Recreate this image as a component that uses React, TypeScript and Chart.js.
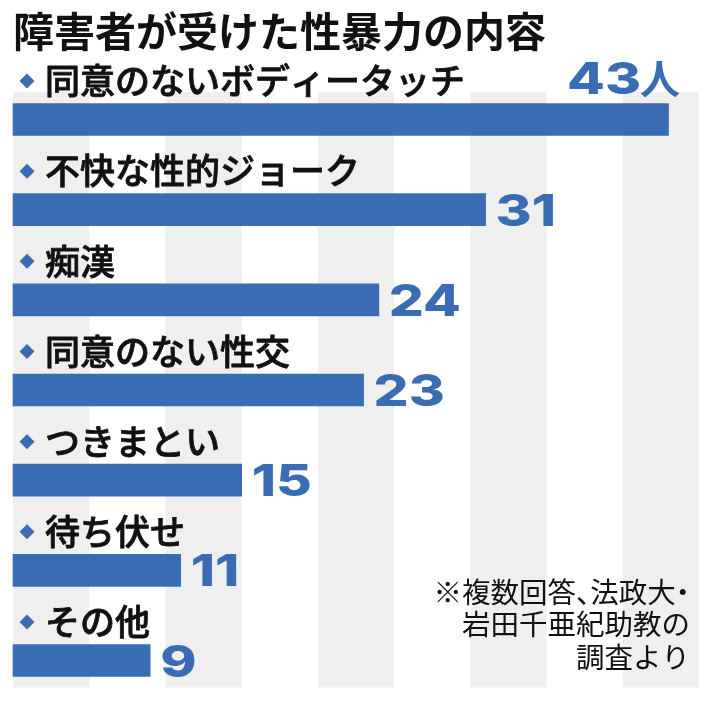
import React, { useEffect, useRef } from "react";
import { Chart, registerables } from "chart.js";

Chart.register(...registerables);

const titleText = "障害者が受けた性暴力の内容";
const categories = [
  "同意のないボディータッチ",
  "不快な性的ジョーク",
  "痴漢",
  "同意のない性交",
  "つきまとい",
  "待ち伏せ",
  "その他",
];
const values = [43, 31, 24, 23, 15, 11, 9];
const unitLabel = "人";
const noteLines = ["※複数回答、法政大・", "岩田千亜紀助教の", "調査より"];
const axisMax = 45;
const stripeStep = 5;

const BLUE = "#3a6cb3";
const STRIPE = "#efefef";
const INK = "#111111";
const JP = '"Noto Sans CJK JP", "Noto Sans", sans-serif';
const NUM = 'Inter, "DejaVu Sans", "Liberation Sans", sans-serif';

const stripesPlugin = {
  id: "stripes",
  beforeDatasetsDraw(chart: any) {
    const { ctx, scales } = chart;
    const x = scales.x;
    const y = scales.y;
    const top = y.getPixelForValue(-0.305);
    const bottom = y.getPixelForValue(categories.length - 1 + 0.3);
    ctx.save();
    ctx.fillStyle = STRIPE;
    for (let v = 0; v < axisMax; v += stripeStep * 2) {
      const l = x.getPixelForValue(v);
      const r = x.getPixelForValue(Math.min(v + stripeStep, axisMax));
      ctx.fillRect(l, top, r - l, bottom - top);
    }
    ctx.restore();
  },
};

function drawWideNumber(ctx: any, text: string, x: number, baseY: number, align: "left" | "right") {
  const sx = 1.25;
  ctx.save();
  ctx.font = `800 44px ${NUM}`;
  ctx.fillStyle = BLUE;
  ctx.textBaseline = "alphabetic";
  const w = ctx.measureText(text).width * sx;
  const left = align === "left" ? x : x - w;
  ctx.translate(left, baseY);
  ctx.scale(sx, 1);
  ctx.textAlign = "left";
  ctx.fillText(text, 0, 0);
  ctx.restore();
  return w;
}

const labelsPlugin = {
  id: "barLabels",
  afterDatasetsDraw(chart: any) {
    const { ctx } = chart;
    const meta = chart.getDatasetMeta(0);
    const area = chart.chartArea;
    meta.data.forEach((bar: any, i: number) => {
      const cy = bar.y;
      const ly = cy - 38.5;
      // diamond
      ctx.save();
      ctx.fillStyle = BLUE;
      ctx.beginPath();
      const dx = 27;
      const d = 7.5;
      ctx.moveTo(dx, ly - d);
      ctx.lineTo(dx + d, ly);
      ctx.lineTo(dx, ly + d);
      ctx.lineTo(dx - d, ly);
      ctx.closePath();
      ctx.fill();
      // category text
      ctx.fillStyle = INK;
      ctx.strokeStyle = INK;
      ctx.lineWidth = 0.8;
      ctx.lineJoin = "round";
      ctx.font = `500 35px ${JP}`;
      ctx.textAlign = "left";
      ctx.textBaseline = "middle";
      ctx.fillText(categories[i], 45, ly);
      ctx.strokeText(categories[i], 45, ly);
      ctx.restore();

      const txt = String(values[i]);
      if (i === 0) {
        ctx.save();
        ctx.font = `bold 40px ${JP}`;
        ctx.fillStyle = BLUE;
        ctx.textAlign = "right";
        ctx.textBaseline = "alphabetic";
        const rightX = area.right - 19;
        const uw = ctx.measureText(unitLabel).width;
        ctx.fillText(unitLabel, rightX, cy - 26);
        ctx.restore();
        drawWideNumber(ctx, txt, rightX - uw + 1, cy - 26, "right");
      } else {
        drawWideNumber(ctx, txt, bar.x + 10, cy + 16, "left");
      }
    });
  },
};

const narrowChars = "、・";

function drawNoteLine(ctx: any, line: string, right: number, y: number) {
  const chars = Array.from(line);
  const adv = chars.map((c) => {
    const w = ctx.measureText(c).width;
    return narrowChars.includes(c) ? w * 0.5 : w;
  });
  const total = adv.reduce((a, b) => a + b, 0);
  let x = right - total;
  chars.forEach((c, k) => {
    const shift = c === "・" ? -adv[k] * 0.5 : 0;
    ctx.fillText(c, x + shift, y);
    x += adv[k];
  });
}

const notePlugin = {
  id: "note",
  afterDraw(chart: any) {
    const { ctx } = chart;
    const area = chart.chartArea;
    ctx.save();
    ctx.fillStyle = INK;
    ctx.font = `28.5px ${JP}`;
    ctx.textAlign = "left";
    ctx.textBaseline = "middle";
    const rx = area.right - 9;
    noteLines.forEach((line, k) => {
      drawNoteLine(ctx, line, rx, 592 + k * 32.5);
    });
    ctx.restore();
  },
};

export default function App() {
  const ref = useRef<HTMLCanvasElement | null>(null);
  useEffect(() => {
    if (!ref.current) return;
    const chart = new Chart(ref.current, {
      type: "bar",
      data: {
        labels: categories,
        datasets: [
          {
            data: values,
            backgroundColor: BLUE,
            borderWidth: 0,
            barThickness: 32,
            clip: false as any,
          },
        ],
      },
      options: {
        indexAxis: "y",
        responsive: false,
        animation: false,
        events: [],
        layout: { padding: { left: 13, right: 22, top: 0, bottom: 41.5 } },
        scales: {
          x: { display: false, min: 0, max: axisMax },
          y: { display: false, offset: false },
        },
        plugins: {
          legend: { display: false },
          tooltip: { enabled: false },
          title: {
            display: true,
            text: titleText,
            align: "start",
            color: INK,
            font: { family: JP, size: 41, weight: "bold", lineHeight: 1.2 },
            padding: { top: 6.4, bottom: 63.9 },
          },
        },
      },
      plugins: [stripesPlugin, labelsPlugin, notePlugin],
    });
    return () => chart.destroy();
  }, []);
  return (
    <div style={{ position: "absolute", left: 0, top: 0, width: 721, height: 702, background: "#fff" }}>
      <canvas ref={ref} width={721} height={702} style={{ display: "block" }} />
    </div>
  );
}
